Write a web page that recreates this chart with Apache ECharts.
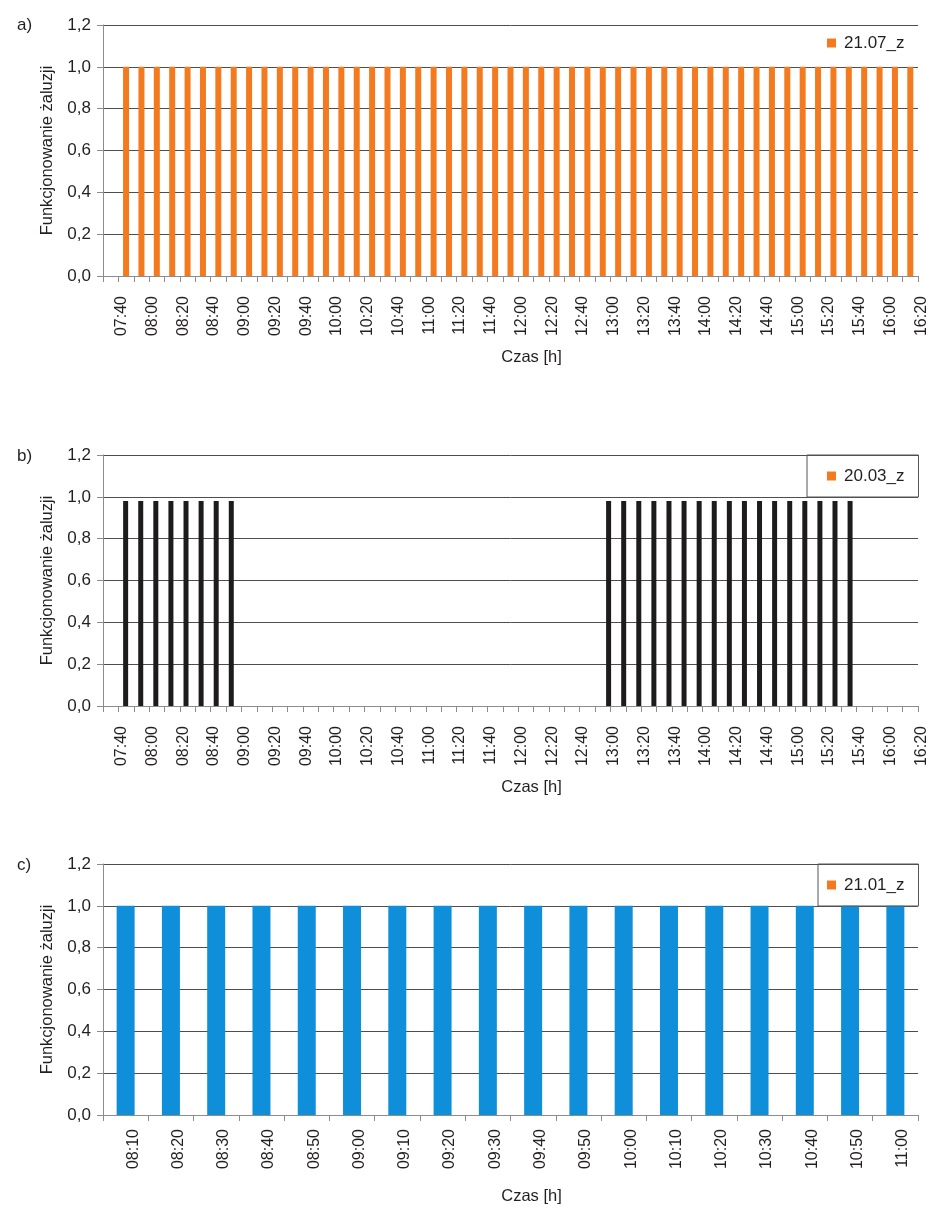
<!DOCTYPE html>
<html>
<head>
<meta charset="utf-8">
<title>Funkcjonowanie żaluzji</title>
<script src="https://cdn.jsdelivr.net/npm/echarts@6/dist/echarts.min.js"></script>
<style>
html, body { margin: 0; padding: 0; background: #fff; }
#chart { width: 940px; height: 1217px; }
</style>
</head>
<body>
<div id="chart"></div>
<script>
// a) 21.07 - kategorie co 10 min
var timesA = ['07:40','07:50','08:00','08:10','08:20','08:30','08:40','08:50','09:00','09:10','09:20','09:30','09:40',
	'09:50','10:00','10:10','10:20','10:30','10:40','10:50','11:00','11:10','11:20','11:30','11:40','11:50',
	'12:00','12:10','12:20','12:30','12:40','12:50','13:00','13:10','13:20','13:30','13:40','13:50','14:00',
	'14:10','14:20','14:30','14:40','14:50','15:00','15:10','15:20','15:30','15:40','15:50','16:00','16:10','16:20'];
var valuesA = [0, 1, 1, 1, 1, 1, 1, 1, 1, 1, 1, 1, 1,
	1, 1, 1, 1, 1, 1, 1, 1, 1, 1, 1, 1, 1,
	1, 1, 1, 1, 1, 1, 1, 1, 1, 1, 1, 1, 1,
	1, 1, 1, 1, 1, 1, 1, 1, 1, 1, 1, 1, 1, 1];

// b) 20.03 - seria ma jedna kategorie wiecej niz os
var timesB = ['07:40','07:50','08:00','08:10','08:20','08:30','08:40','08:50','09:00','09:10','09:20','09:30','09:40',
	'09:50','10:00','10:10','10:20','10:30','10:40','10:50','11:00','11:10','11:20','11:30','11:40','11:50',
	'12:00','12:10','12:20','12:30','12:40','12:50','13:00','13:10','13:20','13:30','13:40','13:50','14:00',
	'14:10','14:20','14:30','14:40','14:50','15:00','15:10','15:20','15:30','15:40','15:50','16:00','16:10','16:20','16:30'];
var valuesB = [0, 0.98, 0.98, 0.98, 0.98, 0.98, 0.98, 0.98, 0.98,
	0, 0, 0, 0, 0, 0, 0, 0, 0, 0, 0, 0,
	0, 0, 0, 0, 0, 0, 0, 0, 0, 0, 0, 0,
	0.98, 0.98, 0.98, 0.98, 0.98, 0.98, 0.98, 0.98, 0.98, 0.98, 0.98, 0.98, 0.98, 0.98, 0.98, 0.98, 0.98,
	0, 0, 0, 0];

// c) 21.01
var timesC = ['08:10','08:20','08:30','08:40','08:50','09:00','09:10','09:20','09:30',
	'09:40','09:50','10:00','10:10','10:20','10:30','10:40','10:50','11:00'];
var valuesC = [1, 1, 1, 1, 1, 1, 1, 1, 1, 1, 1, 1, 1, 1, 1, 1, 1, 1];

var FONT = "'Liberation Sans', Arial, sans-serif";
var TEXT = '#231f20';
var AXIS = '#8c8c8c';
var ORANGE = '#f37a1f';
var GRID_TOPS = [25, 455, 864];

var ShadingChart = {
	init : function() {
		var chart = echarts.init(document.getElementById('chart'));
		chart.setOption(ShadingChart.buildOption(), true);
	},

	buildYAxis : function(g) {
		return {
			gridIndex : g,
			type : 'value',
			min : 0,
			max : 1.2,
			interval : 0.2,
			name : 'Funkcjonowanie żaluzji',
			nameLocation : 'middle',
			nameGap : 47,
			nameTextStyle : { fontSize : 16.5, color : TEXT, fontFamily : FONT },
			axisLine : { show : true, lineStyle : { color : AXIS, width : 1 } },
			axisTick : { show : true, length : 6, lineStyle : { color : AXIS } },
			axisLabel : {
				margin : 12,
				fontSize : 17,
				color : TEXT,
				fontFamily : FONT,
				formatter : function(v) {
					return v.toFixed(1).replace('.', ',');
				}
			},
			splitLine : { show : true, lineStyle : { color : '#4d4d4d', width : 1 } }
		};
	},

	buildXAxis : function(g, data, labelStep, margin, lineHeight) {
		return {
			gridIndex : g,
			type : 'category',
			data : data,
			boundaryGap : true,
			name : 'Czas [h]',
			nameLocation : 'middle',
			nameGap : 73,
			nameTextStyle : { fontSize : 16.5, color : TEXT, fontFamily : FONT, padding : [ 0, 0, 0, 42 ] },
			axisLine : { show : true, lineStyle : { color : AXIS, width : 1 } },
			axisTick : { show : true, interval : 0, length : 6, lineStyle : { color : AXIS } },
			axisLabel : {
				interval : labelStep,
				rotate : 90,
				margin : margin,
				fontSize : 16,
				color : TEXT,
				fontFamily : FONT,
				verticalAlign : 'top',
				lineHeight : lineHeight
			},
			splitLine : { show : false }
		};
	},

	buildLegend : function(name, left, top, padLeft, border) {
		return {
			data : [ { name : name, itemStyle : { color : ORANGE } } ],
			left : left,
			top : top,
			padding : [ 11, 14, 11, padLeft ],
			borderWidth : border ? 1 : 0,
			borderColor : '#555',
			icon : 'rect',
			itemWidth : 9,
			itemHeight : 9,
			itemStyle : { borderWidth : 0 },
			selectedMode : false,
			textStyle : { fontSize : 17, lineHeight : 20, color : TEXT, fontFamily : FONT, padding : [ 0, 0, 0, 3 ] }
		};
	},

	buildOption : function() {
		var grids = [];
		var yAxes = [];
		for (var i = 0; i < GRID_TOPS.length; i++) {
			grids.push({ left : 103, top : GRID_TOPS[i], width : 815, height : 251, outerBoundsMode : 'none' });
			yAxes.push(ShadingChart.buildYAxis(i));
		}
		var xAxes = [
			ShadingChart.buildXAxis(0, timesA, 1, 20, 22),
			ShadingChart.buildXAxis(1, timesA, 1, 20, 22),
			{ gridIndex : 1, type : 'category', data : timesB, boundaryGap : true, show : false },
			ShadingChart.buildXAxis(2, timesC, 0, 14, 15)
		];
		var titleStyle = { fontSize : 17, fontWeight : 'normal', color : TEXT, fontFamily : FONT };
		var option = {
			animation : false,
			backgroundColor : '#fff',
			textStyle : { fontFamily : FONT, color : TEXT },
			title : [
				{ text : 'a)', left : 17, top : 17, padding : 0, textStyle : titleStyle },
				{ text : 'b)', left : 17, top : 448, padding : 0, textStyle : titleStyle },
				{ text : 'c)', left : 17, top : 857, padding : 0, textStyle : titleStyle }
			],
			legend : [
				ShadingChart.buildLegend('21.07_z', 818, 22, 9, false),
				ShadingChart.buildLegend('20.03_z', 807, 455, 20, true),
				ShadingChart.buildLegend('21.01_z', 818, 864, 9, true)
			],
			grid : grids,
			xAxis : xAxes,
			yAxis : yAxes,
			series : [ {
				name : '21.07_z',
				type : 'bar',
				xAxisIndex : 0,
				yAxisIndex : 0,
				barWidth : 6,
				itemStyle : { color : ORANGE },
				data : valuesA
			}, {
				name : '20.03_z',
				type : 'bar',
				xAxisIndex : 2,
				yAxisIndex : 1,
				barWidth : 5,
				itemStyle : { color : '#1e1b1c' },
				data : valuesB
			}, {
				name : '21.01_z',
				type : 'bar',
				xAxisIndex : 3,
				yAxisIndex : 2,
				barWidth : 18,
				itemStyle : { color : '#0f8fda' },
				data : valuesC
			} ]
		};
		return option;
	}
};

window.onload = function() {
	ShadingChart.init();
};
</script>
</body>
</html>
